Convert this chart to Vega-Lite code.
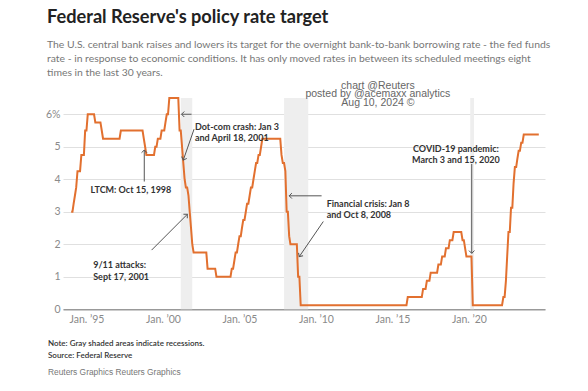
{
  "$schema": "https://vega.github.io/schema/vega-lite/v6.json",
  "width": 482,
  "height": 211.25,
  "autosize": {"type": "none"},
  "padding": {"left": 63, "top": 98, "right": 43, "bottom": 82},
  "background": "white",
  "title": {
    "text": "Federal Reserve's policy rate target",
    "subtitle": [
      "The U.S. central bank raises and lowers its target for the overnight bank-to-bank borrowing rate - the fed funds",
      "rate - in response to economic conditions. It has only moved rates in between its scheduled meetings eight",
      "times in the last 30 years."
    ],
    "anchor": "start",
    "frame": "group",
    "dx": -16,
    "dy": 5,
    "font": "Lato",
    "fontSize": 18.2,
    "fontWeight": "bold",
    "color": "#222222",
    "subtitleFont": "Lato",
    "subtitleFontSize": 10.4,
    "subtitleColor": "#777777",
    "subtitleLineHeight": 14,
    "subtitlePadding": 13,
    "offset": 6
  },
  "datasets": {
    "rate": [
      {"date": "1994-01-01", "rate": 3.0},
      {"date": "1994-02-01", "rate": 3.0},
      {"date": "1994-03-01", "rate": 3.25},
      {"date": "1994-04-01", "rate": 3.5},
      {"date": "1994-05-01", "rate": 3.75},
      {"date": "1994-06-01", "rate": 4.25},
      {"date": "1994-08-01", "rate": 4.25},
      {"date": "1994-09-01", "rate": 4.75},
      {"date": "1994-11-01", "rate": 4.75},
      {"date": "1994-12-01", "rate": 5.5},
      {"date": "1995-01-01", "rate": 5.5},
      {"date": "1995-02-01", "rate": 6.0},
      {"date": "1995-07-01", "rate": 6.0},
      {"date": "1995-08-01", "rate": 5.75},
      {"date": "1995-12-01", "rate": 5.75},
      {"date": "1996-01-01", "rate": 5.5},
      {"date": "1996-02-01", "rate": 5.25},
      {"date": "1997-03-01", "rate": 5.25},
      {"date": "1997-04-01", "rate": 5.5},
      {"date": "1998-09-01", "rate": 5.5},
      {"date": "1998-10-01", "rate": 5.25},
      {"date": "1998-11-01", "rate": 5.0},
      {"date": "1998-12-01", "rate": 4.75},
      {"date": "1999-06-01", "rate": 4.75},
      {"date": "1999-07-01", "rate": 5.0},
      {"date": "1999-08-01", "rate": 5.0},
      {"date": "1999-09-01", "rate": 5.25},
      {"date": "1999-11-01", "rate": 5.25},
      {"date": "1999-12-01", "rate": 5.5},
      {"date": "2000-02-01", "rate": 5.5},
      {"date": "2000-03-01", "rate": 5.75},
      {"date": "2000-04-01", "rate": 6.0},
      {"date": "2000-05-01", "rate": 6.0},
      {"date": "2000-06-01", "rate": 6.5},
      {"date": "2001-01-01", "rate": 6.5},
      {"date": "2001-02-01", "rate": 5.5},
      {"date": "2001-03-01", "rate": 5.5},
      {"date": "2001-04-01", "rate": 5.0},
      {"date": "2001-05-01", "rate": 4.5},
      {"date": "2001-06-01", "rate": 4.0},
      {"date": "2001-07-01", "rate": 3.75},
      {"date": "2001-08-01", "rate": 3.75},
      {"date": "2001-09-01", "rate": 3.5},
      {"date": "2001-10-01", "rate": 3.0},
      {"date": "2001-11-01", "rate": 2.5},
      {"date": "2001-12-01", "rate": 2.0},
      {"date": "2002-01-01", "rate": 1.75},
      {"date": "2002-11-01", "rate": 1.75},
      {"date": "2002-12-01", "rate": 1.25},
      {"date": "2003-06-01", "rate": 1.25},
      {"date": "2003-07-01", "rate": 1.0},
      {"date": "2004-06-01", "rate": 1.0},
      {"date": "2004-07-01", "rate": 1.25},
      {"date": "2004-08-01", "rate": 1.25},
      {"date": "2004-09-01", "rate": 1.5},
      {"date": "2004-10-01", "rate": 1.75},
      {"date": "2004-11-01", "rate": 1.75},
      {"date": "2004-12-01", "rate": 2.0},
      {"date": "2005-01-01", "rate": 2.25},
      {"date": "2005-02-01", "rate": 2.25},
      {"date": "2005-03-01", "rate": 2.5},
      {"date": "2005-04-01", "rate": 2.75},
      {"date": "2005-05-01", "rate": 2.75},
      {"date": "2005-06-01", "rate": 3.0},
      {"date": "2005-07-01", "rate": 3.25},
      {"date": "2005-08-01", "rate": 3.25},
      {"date": "2005-09-01", "rate": 3.5},
      {"date": "2005-10-01", "rate": 3.75},
      {"date": "2005-11-01", "rate": 3.75},
      {"date": "2005-12-01", "rate": 4.0},
      {"date": "2006-01-01", "rate": 4.25},
      {"date": "2006-02-01", "rate": 4.5},
      {"date": "2006-03-01", "rate": 4.5},
      {"date": "2006-04-01", "rate": 4.75},
      {"date": "2006-05-01", "rate": 4.75},
      {"date": "2006-06-01", "rate": 5.0},
      {"date": "2006-07-01", "rate": 5.25},
      {"date": "2007-09-01", "rate": 5.25},
      {"date": "2007-10-01", "rate": 4.75},
      {"date": "2007-11-01", "rate": 4.5},
      {"date": "2007-12-01", "rate": 4.5},
      {"date": "2008-01-01", "rate": 4.25},
      {"date": "2008-02-01", "rate": 3.0},
      {"date": "2008-03-01", "rate": 3.0},
      {"date": "2008-04-01", "rate": 2.25},
      {"date": "2008-05-01", "rate": 2.0},
      {"date": "2008-10-01", "rate": 2.0},
      {"date": "2008-11-01", "rate": 1.0},
      {"date": "2008-12-01", "rate": 1.0},
      {"date": "2009-01-01", "rate": 0.125},
      {"date": "2015-12-01", "rate": 0.125},
      {"date": "2016-01-01", "rate": 0.375},
      {"date": "2016-12-01", "rate": 0.375},
      {"date": "2017-01-01", "rate": 0.625},
      {"date": "2017-03-01", "rate": 0.625},
      {"date": "2017-04-01", "rate": 0.875},
      {"date": "2017-06-01", "rate": 0.875},
      {"date": "2017-07-01", "rate": 1.125},
      {"date": "2017-12-01", "rate": 1.125},
      {"date": "2018-01-01", "rate": 1.375},
      {"date": "2018-03-01", "rate": 1.375},
      {"date": "2018-04-01", "rate": 1.625},
      {"date": "2018-06-01", "rate": 1.625},
      {"date": "2018-07-01", "rate": 1.875},
      {"date": "2018-09-01", "rate": 1.875},
      {"date": "2018-10-01", "rate": 2.125},
      {"date": "2018-12-01", "rate": 2.125},
      {"date": "2019-01-01", "rate": 2.375},
      {"date": "2019-07-01", "rate": 2.375},
      {"date": "2019-08-01", "rate": 2.125},
      {"date": "2019-09-01", "rate": 2.125},
      {"date": "2019-10-01", "rate": 1.875},
      {"date": "2019-11-01", "rate": 1.625},
      {"date": "2020-03-01", "rate": 1.625},
      {"date": "2020-04-01", "rate": 0.125},
      {"date": "2022-03-01", "rate": 0.125},
      {"date": "2022-04-01", "rate": 0.375},
      {"date": "2022-05-01", "rate": 0.375},
      {"date": "2022-06-01", "rate": 0.875},
      {"date": "2022-07-01", "rate": 1.625},
      {"date": "2022-08-01", "rate": 2.375},
      {"date": "2022-09-01", "rate": 2.375},
      {"date": "2022-10-01", "rate": 3.125},
      {"date": "2022-11-01", "rate": 3.125},
      {"date": "2022-12-01", "rate": 3.875},
      {"date": "2023-01-01", "rate": 4.375},
      {"date": "2023-02-01", "rate": 4.375},
      {"date": "2023-03-01", "rate": 4.625},
      {"date": "2023-04-01", "rate": 4.875},
      {"date": "2023-05-01", "rate": 4.875},
      {"date": "2023-06-01", "rate": 5.125},
      {"date": "2023-07-01", "rate": 5.125},
      {"date": "2023-08-01", "rate": 5.375},
      {"date": "2024-07-25", "rate": 5.375}
    ],
    "recessions": [
      {"start": "2001-03-01", "end": "2001-11-30"},
      {"start": "2007-12-01", "end": "2009-06-30"},
      {"start": "2020-02-01", "end": "2020-04-30"}
    ],
    "arrows": [
      {"event": "LTCM", "from_date": "1998-10-12", "from_rate": 3.93, "to_date": "1998-10-12", "to_rate": 4.9, "dir": "up"},
      {"event": "Dot-com 1", "from_date": "2001-11-15", "from_rate": 6.0, "to_date": "2001-03-20", "to_rate": 6.0, "dir": "left"},
      {"event": "Dot-com 2", "from_date": "2002-01-12", "from_rate": 5.54, "to_date": "2001-05-01", "to_rate": 4.59, "dir": "down-left-steep"},
      {"event": "9/11", "from_date": "1999-04-05", "from_rate": 1.82, "to_date": "2001-08-04", "to_rate": 2.92, "dir": "up-right"},
      {"event": "Financial 1", "from_date": "2010-05-15", "from_rate": 3.49, "to_date": "2008-04-01", "to_rate": 3.49, "dir": "left"},
      {"event": "Financial 2", "from_date": "2010-06-25", "from_rate": 2.7, "to_date": "2008-11-28", "to_rate": 1.62, "dir": "down-left"},
      {"event": "COVID", "from_date": "2020-03-07", "from_rate": 4.47, "to_date": "2020-03-07", "to_rate": 1.72, "dir": "down"}
    ],
    "labels_center": [
      {"date": "1997-11-28", "rate": 3.67, "label": "LTCM: Oct 15, 1998"},
      {"date": "2019-02-24", "rate": 4.94, "label": "COVID-19 pandemic:\nMarch 3 and 15, 2020"}
    ],
    "labels_left": [
      {"date": "2002-02-03", "rate": 5.61, "label": "Dot-com crash: Jan 3\nand April 18, 2001"},
      {"date": "1995-06-10", "rate": 1.36, "label": "9/11 attacks:\nSept 17, 2001"},
      {"date": "2010-09-13", "rate": 3.25, "label": "Financial crisis: Jan 8\nand Oct 8, 2008"}
    ],
    "credit": [
      {"date": "2014-01-18", "rate": 6.88, "label": "chart @Reuters\nposted by @acemaxx analytics\nAug 10, 2024 ©"}
    ],
    "notes": [
      {"date": "1992-06-26", "rate": -1.07, "label": "Note: Gray shaded areas indicate recessions."},
      {"date": "1992-06-26", "rate": -1.45, "label": "Source: Federal Reserve"}
    ],
    "footer": [
      {"date": "1992-06-26", "rate": -1.93, "label": "Reuters Graphics Reuters Graphics"}
    ]
  },
  "layer": [
    {
      "data": {"name": "recessions"},
      "mark": {"type": "rect", "color": "#eeeeee"},
      "encoding": {
        "x": {"field": "start", "type": "temporal", "scale": {"domain": ["1993-06-20", "2024-12-20"]},
          "axis": {"title": null, "values": ["1995-01-01", "2000-01-01", "2005-01-01", "2010-01-01", "2015-01-01", "2020-01-01"], "labelExpr": "'Jan. \u2019' + timeFormat(datum.value, '%y')"}},
        "x2": {"field": "end"}
      }
    },
    {
      "data": {"name": "rate"},
      "mark": {"type": "line", "color": "#e2702f", "strokeWidth": 2},
      "encoding": {
        "x": {"field": "date", "type": "temporal",
          "axis": {"title": null, "values": ["1995-01-01", "2000-01-01", "2005-01-01", "2010-01-01", "2015-01-01", "2020-01-01"], "labelExpr": "'Jan. \u2019' + timeFormat(datum.value, '%y')"}},
        "y": {"field": "rate", "type": "quantitative", "scale": {"domain": [0, 6.5], "nice": false},
          "axis": {"title": null, "values": [0, 1, 2, 3, 4, 5, 6], "labelExpr": "datum.value == 6 ? '6%' : datum.label"}}
      }
    },
    {
      "data": {"name": "arrows"},
      "mark": {"type": "rule", "color": "#555555", "strokeWidth": 1},
      "encoding": {
        "x": {"field": "from_date", "type": "temporal",
          "axis": {"title": null, "values": ["1995-01-01", "2000-01-01", "2005-01-01", "2010-01-01", "2015-01-01", "2020-01-01"], "labelExpr": "'Jan. \u2019' + timeFormat(datum.value, '%y')"}},
        "x2": {"field": "to_date"},
        "y": {"field": "from_rate", "type": "quantitative",
          "axis": {"title": null, "values": [0, 1, 2, 3, 4, 5, 6], "labelExpr": "datum.value == 6 ? '6%' : datum.label"}},
        "y2": {"field": "to_rate"}
      }
    },
    {
      "data": {"name": "arrows"},
      "transform": [{"filter": "datum.dir == 'up'"}],
      "mark": {"type": "point", "shape": "M -1 -1 L 0 0 L -1 1", "angle": 270, "filled": false, "stroke": "#555555", "strokeWidth": 1, "size": 30, "opacity": 1},
      "encoding": {
        "x": {"field": "to_date", "type": "temporal", "axis": {"title": null, "values": ["1995-01-01", "2000-01-01", "2005-01-01", "2010-01-01", "2015-01-01", "2020-01-01"], "labelExpr": "'Jan. \u2019' + timeFormat(datum.value, '%y')"}},
        "y": {"field": "to_rate", "type": "quantitative", "axis": {"title": null, "values": [0, 1, 2, 3, 4, 5, 6], "labelExpr": "datum.value == 6 ? '6%' : datum.label"}}
      }
    },
    {
      "data": {"name": "arrows"},
      "transform": [{"filter": "datum.dir == 'left'"}],
      "mark": {"type": "point", "shape": "M -1 -1 L 0 0 L -1 1", "angle": 180, "filled": false, "stroke": "#555555", "strokeWidth": 1, "size": 30, "opacity": 1},
      "encoding": {
        "x": {"field": "to_date", "type": "temporal", "axis": {"title": null, "values": ["1995-01-01", "2000-01-01", "2005-01-01", "2010-01-01", "2015-01-01", "2020-01-01"], "labelExpr": "'Jan. \u2019' + timeFormat(datum.value, '%y')"}},
        "y": {"field": "to_rate", "type": "quantitative", "axis": {"title": null, "values": [0, 1, 2, 3, 4, 5, 6], "labelExpr": "datum.value == 6 ? '6%' : datum.label"}}
      }
    },
    {
      "data": {"name": "arrows"},
      "transform": [{"filter": "datum.dir == 'down'"}],
      "mark": {"type": "point", "shape": "M -1 -1 L 0 0 L -1 1", "angle": 90, "filled": false, "stroke": "#555555", "strokeWidth": 1, "size": 30, "opacity": 1},
      "encoding": {
        "x": {"field": "to_date", "type": "temporal", "axis": {"title": null, "values": ["1995-01-01", "2000-01-01", "2005-01-01", "2010-01-01", "2015-01-01", "2020-01-01"], "labelExpr": "'Jan. \u2019' + timeFormat(datum.value, '%y')"}},
        "y": {"field": "to_rate", "type": "quantitative", "axis": {"title": null, "values": [0, 1, 2, 3, 4, 5, 6], "labelExpr": "datum.value == 6 ? '6%' : datum.label"}}
      }
    },
    {
      "data": {"name": "arrows"},
      "transform": [{"filter": "datum.dir == 'up-right'"}],
      "mark": {"type": "point", "shape": "M -1 -1 L 0 0 L -1 1", "angle": 315, "filled": false, "stroke": "#555555", "strokeWidth": 1, "size": 30, "opacity": 1},
      "encoding": {
        "x": {"field": "to_date", "type": "temporal", "axis": {"title": null, "values": ["1995-01-01", "2000-01-01", "2005-01-01", "2010-01-01", "2015-01-01", "2020-01-01"], "labelExpr": "'Jan. \u2019' + timeFormat(datum.value, '%y')"}},
        "y": {"field": "to_rate", "type": "quantitative", "axis": {"title": null, "values": [0, 1, 2, 3, 4, 5, 6], "labelExpr": "datum.value == 6 ? '6%' : datum.label"}}
      }
    },
    {
      "data": {"name": "arrows"},
      "transform": [{"filter": "datum.dir == 'down-left-steep'"}],
      "mark": {"type": "point", "shape": "M -1 -1 L 0 0 L -1 1", "angle": 109, "filled": false, "stroke": "#555555", "strokeWidth": 1, "size": 30, "opacity": 1},
      "encoding": {
        "x": {"field": "to_date", "type": "temporal", "axis": {"title": null, "values": ["1995-01-01", "2000-01-01", "2005-01-01", "2010-01-01", "2015-01-01", "2020-01-01"], "labelExpr": "'Jan. \u2019' + timeFormat(datum.value, '%y')"}},
        "y": {"field": "to_rate", "type": "quantitative", "axis": {"title": null, "values": [0, 1, 2, 3, 4, 5, 6], "labelExpr": "datum.value == 6 ? '6%' : datum.label"}}
      }
    },
    {
      "data": {"name": "arrows"},
      "transform": [{"filter": "datum.dir == 'down-left'"}],
      "mark": {"type": "point", "shape": "M -1 -1 L 0 0 L -1 1", "angle": 124, "filled": false, "stroke": "#555555", "strokeWidth": 1, "size": 30, "opacity": 1},
      "encoding": {
        "x": {"field": "to_date", "type": "temporal", "axis": {"title": null, "values": ["1995-01-01", "2000-01-01", "2005-01-01", "2010-01-01", "2015-01-01", "2020-01-01"], "labelExpr": "'Jan. \u2019' + timeFormat(datum.value, '%y')"}},
        "y": {"field": "to_rate", "type": "quantitative", "axis": {"title": null, "values": [0, 1, 2, 3, 4, 5, 6], "labelExpr": "datum.value == 6 ? '6%' : datum.label"}}
      }
    },
    {
      "data": {"name": "labels_center"},
      "mark": {"type": "text", "align": "center", "baseline": "middle", "lineBreak": "\n", "lineHeight": 11.5, "font": "Lato", "fontWeight": "bold", "fontSize": 9, "color": "#333333"},
      "encoding": {
        "x": {"field": "date", "type": "temporal", "axis": {"title": null, "values": ["1995-01-01", "2000-01-01", "2005-01-01", "2010-01-01", "2015-01-01", "2020-01-01"], "labelExpr": "'Jan. \u2019' + timeFormat(datum.value, '%y')"}},
        "y": {"field": "rate", "type": "quantitative", "axis": {"title": null, "values": [0, 1, 2, 3, 4, 5, 6], "labelExpr": "datum.value == 6 ? '6%' : datum.label"}},
        "text": {"field": "label"}
      }
    },
    {
      "data": {"name": "labels_left"},
      "mark": {"type": "text", "align": "left", "baseline": "middle", "lineBreak": "\n", "lineHeight": 11.5, "font": "Lato", "fontWeight": "bold", "fontSize": 9, "color": "#333333"},
      "encoding": {
        "x": {"field": "date", "type": "temporal", "axis": {"title": null, "values": ["1995-01-01", "2000-01-01", "2005-01-01", "2010-01-01", "2015-01-01", "2020-01-01"], "labelExpr": "'Jan. \u2019' + timeFormat(datum.value, '%y')"}},
        "y": {"field": "rate", "type": "quantitative", "axis": {"title": null, "values": [0, 1, 2, 3, 4, 5, 6], "labelExpr": "datum.value == 6 ? '6%' : datum.label"}},
        "text": {"field": "label"}
      }
    },
    {
      "data": {"name": "credit"},
      "mark": {"type": "text", "align": "center", "baseline": "middle", "lineBreak": "\n", "lineHeight": 8.5, "font": "Liberation Sans", "fontSize": 10.5, "color": "#666666"},
      "encoding": {
        "x": {"field": "date", "type": "temporal", "axis": {"title": null, "values": ["1995-01-01", "2000-01-01", "2005-01-01", "2010-01-01", "2015-01-01", "2020-01-01"], "labelExpr": "'Jan. \u2019' + timeFormat(datum.value, '%y')"}},
        "y": {"field": "rate", "type": "quantitative", "axis": {"title": null, "values": [0, 1, 2, 3, 4, 5, 6], "labelExpr": "datum.value == 6 ? '6%' : datum.label"}},
        "text": {"field": "label"}
      }
    },
    {
      "data": {"name": "notes"},
      "mark": {"type": "text", "align": "left", "baseline": "middle", "font": "Lato", "fontWeight": 600, "fontSize": 8, "color": "#333333"},
      "encoding": {
        "x": {"field": "date", "type": "temporal", "axis": {"title": null, "values": ["1995-01-01", "2000-01-01", "2005-01-01", "2010-01-01", "2015-01-01", "2020-01-01"], "labelExpr": "'Jan. \u2019' + timeFormat(datum.value, '%y')"}},
        "y": {"field": "rate", "type": "quantitative", "axis": {"title": null, "values": [0, 1, 2, 3, 4, 5, 6], "labelExpr": "datum.value == 6 ? '6%' : datum.label"}},
        "text": {"field": "label"}
      }
    },
    {
      "data": {"name": "footer"},
      "mark": {"type": "text", "align": "left", "baseline": "middle", "font": "Liberation Sans", "fontSize": 8.4, "color": "#777777"},
      "encoding": {
        "x": {"field": "date", "type": "temporal", "axis": {"title": null, "values": ["1995-01-01", "2000-01-01", "2005-01-01", "2010-01-01", "2015-01-01", "2020-01-01"], "labelExpr": "'Jan. \u2019' + timeFormat(datum.value, '%y')"}},
        "y": {"field": "rate", "type": "quantitative", "axis": {"title": null, "values": [0, 1, 2, 3, 4, 5, 6], "labelExpr": "datum.value == 6 ? '6%' : datum.label"}},
        "text": {"field": "label"}
      }
    }
  ],
  "config": {
    "view": {"stroke": null},
    "font": "Lato",
    "axisX": {
      "grid": false,
      "ticks": false,
      "domain": true,
      "domainColor": "#999999",
      "domainWidth": 1.5,
      "labelColor": "#8a8a8a",
      "labelFont": "Lato",
      "labelFontSize": 10.5,
      "labelPadding": 5
    },
    "axisY": {
      "grid": true,
      "gridColor": "#e0e0e0",
      "domain": false,
      "ticks": false,
      "labelOverlap": false,
      "labelColor": "#8a8a8a",
      "labelFont": "Lato",
      "labelFontSize": 10.5,
      "labelPadding": 3
    }
  }
}
